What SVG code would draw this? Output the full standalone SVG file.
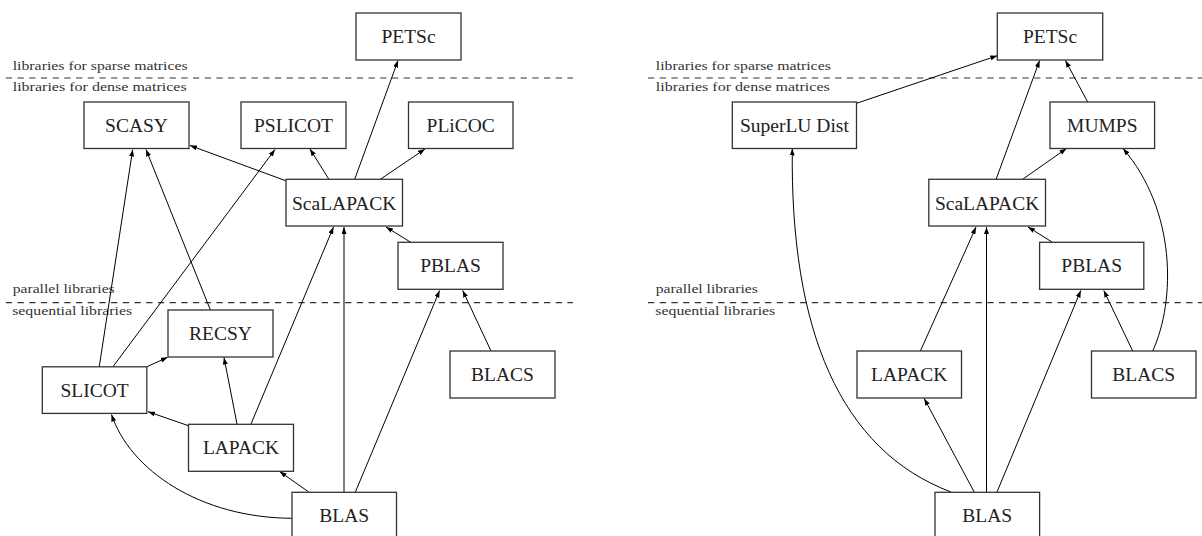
<svg xmlns="http://www.w3.org/2000/svg" width="1202" height="536" viewBox="0 0 1202 536">
<style>
.box{fill:#fff;stroke:#333;stroke-width:1.3}
.lbl{font-size:19.5px;fill:#222;text-anchor:middle}
.sec{font-size:13px;fill:#333}
.dash{stroke:#333;stroke-width:1.2;stroke-dasharray:6.3 5.4;fill:none}
.e{stroke:#000;stroke-width:1;fill:none;marker-end:url(#ah)}
</style>
<defs>
<marker id="ah" markerUnits="userSpaceOnUse" markerWidth="8" markerHeight="6" refX="7" refY="2.5" orient="auto">
<path d="M0,0 L7,2.5 L0,5 Z" fill="#000"/>
</marker>
</defs>
<rect width="1202" height="536" fill="#fff"/>
<g id="separators" font-family="'Liberation Serif', 'DejaVu Serif', serif">
<line class="dash" x1="5.8" y1="78" x2="573" y2="78"/>
<line class="dash" x1="5.8" y1="302.7" x2="573" y2="302.7"/>
<line class="dash" x1="648" y1="78" x2="1202" y2="78"/>
<line class="dash" x1="648" y1="302.7" x2="1202" y2="302.7"/>
<text class="sec" x="12.7" y="70" textLength="175" lengthAdjust="spacingAndGlyphs">libraries for sparse matrices</text>
<text class="sec" x="12.7" y="91" textLength="174" lengthAdjust="spacingAndGlyphs">libraries for dense matrices</text>
<text class="sec" x="12.7" y="293" textLength="102" lengthAdjust="spacingAndGlyphs">parallel libraries</text>
<text class="sec" x="12.2" y="315" textLength="120" lengthAdjust="spacingAndGlyphs">sequential libraries</text>
<text class="sec" x="655.8" y="70" textLength="175" lengthAdjust="spacingAndGlyphs">libraries for sparse matrices</text>
<text class="sec" x="655.8" y="91" textLength="174" lengthAdjust="spacingAndGlyphs">libraries for dense matrices</text>
<text class="sec" x="655.8" y="293" textLength="102" lengthAdjust="spacingAndGlyphs">parallel libraries</text>
<text class="sec" x="655.3" y="315" textLength="120" lengthAdjust="spacingAndGlyphs">sequential libraries</text>
</g>
<g id="connectors">
<line class="e" x1="354.6" y1="179.5" x2="398" y2="60.5"/>
<line class="e" x1="286.5" y1="181" x2="190" y2="145.5"/>
<line class="e" x1="329" y1="179.5" x2="310" y2="149"/>
<line class="e" x1="380" y1="179.5" x2="425" y2="149"/>
<line class="e" x1="410.8" y1="242.3" x2="386" y2="227"/>
<line class="e" x1="344" y1="492" x2="344" y2="227"/>
<line class="e" x1="251" y1="424" x2="333.5" y2="227"/>
<line class="e" x1="237" y1="424" x2="224" y2="357.5"/>
<line class="e" x1="188.5" y1="425.7" x2="148" y2="411.7"/>
<line class="e" x1="147" y1="366.7" x2="167.7" y2="357.3"/>
<line class="e" x1="99.2" y1="367" x2="132.7" y2="149.5"/>
<line class="e" x1="210.4" y1="310" x2="146" y2="149.5"/>
<line class="e" x1="112.7" y1="367" x2="275" y2="149.5"/>
<line class="e" x1="308.8" y1="492" x2="279.6" y2="471.5"/>
<path class="e" d="M292.5,518.3 C200,518 130,470 111.5,414.5"/>
<line class="e" x1="355.4" y1="492" x2="439.6" y2="290.5"/>
<line class="e" x1="491" y1="351" x2="462.7" y2="290.5"/>
<line class="e" x1="856.5" y1="103.3" x2="997.3" y2="55.7"/>
<line class="e" x1="996" y1="179.5" x2="1039.6" y2="60.5"/>
<line class="e" x1="1087.7" y1="102" x2="1065.4" y2="60.5"/>
<line class="e" x1="1022.3" y1="179.5" x2="1066.5" y2="148.5"/>
<line class="e" x1="1052" y1="242" x2="1028" y2="227"/>
<line class="e" x1="986.5" y1="492" x2="986.5" y2="227"/>
<line class="e" x1="920.4" y1="351" x2="976" y2="227"/>
<line class="e" x1="974.2" y1="492" x2="924.2" y2="398.5"/>
<line class="e" x1="997" y1="492" x2="1080.8" y2="290.5"/>
<line class="e" x1="1132.7" y1="351" x2="1103.8" y2="290.5"/>
<path class="e" d="M1152.7,351 C1176,300 1176,210 1123,148.5"/>
<path class="e" d="M951,492 C840,450 790,330 792.3,148.5"/>
</g>
<g id="nodes" font-family="'Liberation Serif', 'DejaVu Serif', serif">
<g id="L_PETSc"><rect class="box" x="356" y="13" width="105" height="47"/><text class="lbl" x="408.5" y="43">PETSc</text></g>
<g id="L_SCASY"><rect class="box" x="84" y="102" width="105" height="46.5"/><text class="lbl" x="136.5" y="131.5">SCASY</text></g>
<g id="L_PSLICOT"><rect class="box" x="241" y="102" width="105" height="46.5"/><text class="lbl" x="293.5" y="131.5">PSLICOT</text></g>
<g id="L_PLiCOC"><rect class="box" x="408.5" y="102" width="104.5" height="46.5"/><text class="lbl" x="460.7" y="131.5">PLiCOC</text></g>
<g id="L_ScaLAPACK"><rect class="box" x="286" y="179.3" width="116.5" height="46.7"/><text class="lbl" x="344.2" y="209.5">ScaLAPACK</text></g>
<g id="L_PBLAS"><rect class="box" x="398" y="242.3" width="105" height="47"/><text class="lbl" x="450.5" y="272.3">PBLAS</text></g>
<g id="L_RECSY"><rect class="box" x="168" y="310" width="105" height="47"/><text class="lbl" x="220.5" y="340">RECSY</text></g>
<g id="L_SLICOT"><rect class="box" x="42.3" y="366.8" width="104.5" height="46.6"/><text class="lbl" x="94.6" y="396.8">SLICOT</text></g>
<g id="L_BLACS"><rect class="box" x="450" y="351" width="105" height="47"/><text class="lbl" x="502.5" y="381">BLACS</text></g>
<g id="L_LAPACK"><rect class="box" x="188.5" y="424.3" width="105" height="47"/><text class="lbl" x="241" y="454.3">LAPACK</text></g>
<g id="L_BLAS"><rect class="box" x="292" y="492.3" width="104.5" height="47"/><text class="lbl" x="344.2" y="522">BLAS</text></g>
<g id="R_PETSc"><rect class="box" x="997.3" y="13" width="105.4" height="47"/><text class="lbl" x="1050" y="43">PETSc</text></g>
<g id="R_SuperLU"><rect class="box" x="732.3" y="102" width="124.2" height="46.5"/><text class="lbl" x="794.4" y="131.5">SuperLU Dist</text></g>
<g id="R_MUMPS"><rect class="box" x="1050" y="102" width="104.6" height="46.5"/><text class="lbl" x="1102.3" y="131.5">MUMPS</text></g>
<g id="R_ScaLAPACK"><rect class="box" x="928.8" y="179.3" width="116.7" height="46.7"/><text class="lbl" x="987.1" y="209.5">ScaLAPACK</text></g>
<g id="R_PBLAS"><rect class="box" x="1039.6" y="242.3" width="104.2" height="47"/><text class="lbl" x="1091.7" y="272.3">PBLAS</text></g>
<g id="R_LAPACK"><rect class="box" x="857" y="351" width="104.5" height="47"/><text class="lbl" x="909.2" y="381">LAPACK</text></g>
<g id="R_BLACS"><rect class="box" x="1091.5" y="351" width="104.5" height="47"/><text class="lbl" x="1143.7" y="381">BLACS</text></g>
<g id="R_BLAS"><rect class="box" x="935" y="492.3" width="104.6" height="47"/><text class="lbl" x="987.3" y="522">BLAS</text></g>
</g>
</svg>
